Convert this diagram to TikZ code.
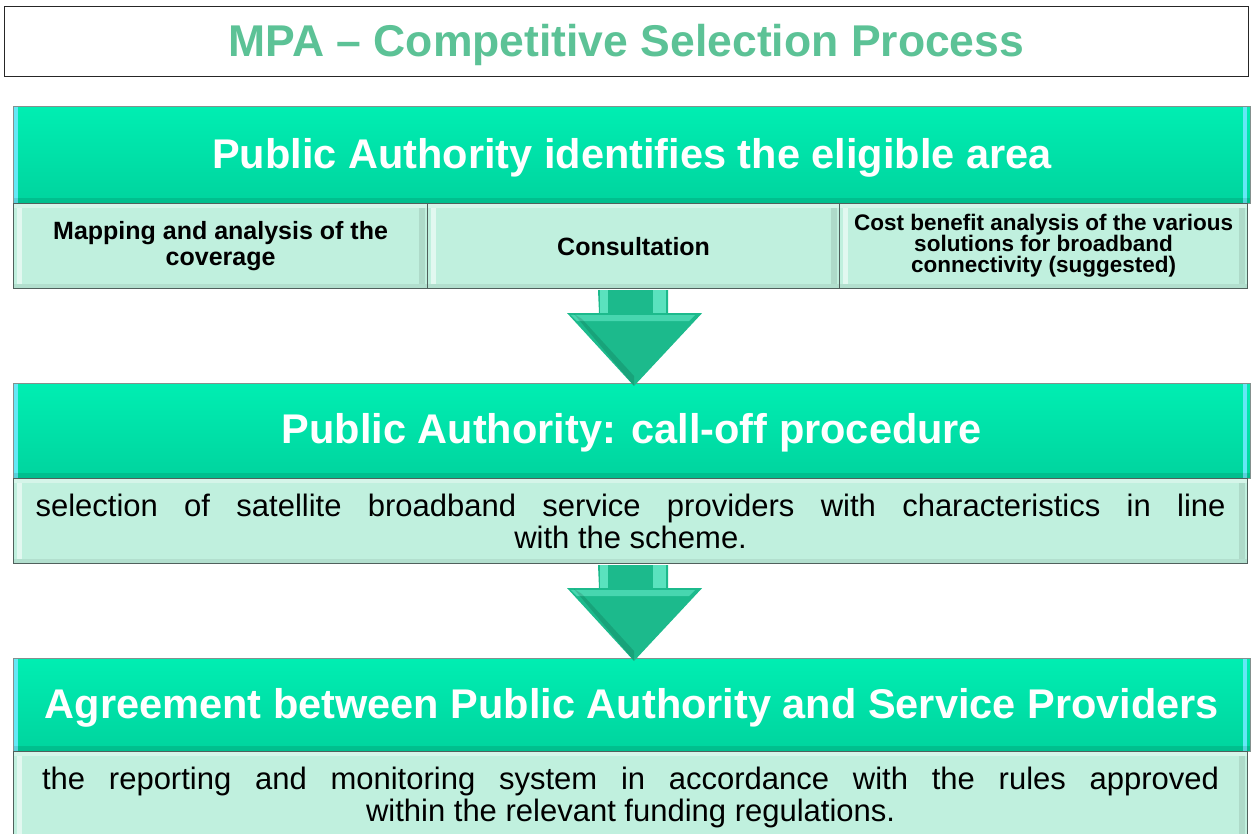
\documentclass[tikz,border=0pt]{standalone}
\usepackage{fontspec}
\setmainfont{Liberation Sans}
\definecolor{titlegreen}{RGB}{92,194,150}
\definecolor{hdrtop}{RGB}{0,238,178}
\definecolor{hdrbot}{RGB}{0,212,158}
\definecolor{subfill}{RGB}{192,240,222}
\definecolor{edgegray}{RGB}{80,96,92}
\definecolor{arrowfill}{RGB}{28,186,140}
\definecolor{arrowlight}{RGB}{90,226,190}
\definecolor{cyanedge}{RGB}{100,232,245}
\newcommand{\lowr}[2]{\raisebox{-#1}[\height][\depth]{#2}}
\begin{document}
\begin{tikzpicture}[x=1pt,y=-1pt,
  titlebox/.style={draw=black!85,line width=1pt,fill=white,anchor=north west,inner sep=0pt},
  hdrbox/.style={draw=edgegray!70,line width=0.8pt,top color=hdrtop,bottom color=hdrbot,anchor=north west,inner sep=0pt,
     text=white,font=\bfseries\fontsize{41.5}{46}\selectfont,
     path picture={
       \fill[cyanedge] ([xshift=0pt]path picture bounding box.north west) rectangle ([xshift=5pt]path picture bounding box.south west);
       \fill[cyanedge] ([xshift=-7pt]path picture bounding box.north east) rectangle ([xshift=-3pt]path picture bounding box.south east);
       \fill[black,opacity=.10] ([yshift=5pt]path picture bounding box.south west) rectangle (path picture bounding box.south east);
     }},
  subbox/.style={draw=edgegray,line width=1.2pt,fill=subfill,anchor=north west,inner sep=0pt,align=center,
     path picture={
       \fill[white,opacity=.55] ([xshift=3pt,yshift=-4pt]path picture bounding box.north west) rectangle ([xshift=8pt,yshift=5pt]path picture bounding box.south west);
       \fill[black,opacity=.09] ([xshift=-9pt,yshift=-4pt]path picture bounding box.north east) rectangle ([xshift=-3pt,yshift=5pt]path picture bounding box.south east);
       \fill[black,opacity=.07] ([yshift=5pt]path picture bounding box.south west) rectangle (path picture bounding box.south east);
       \fill[white,opacity=.35] (path picture bounding box.north west) rectangle ([yshift=-4pt]path picture bounding box.north east);
     }},
  subbold/.style={font=\bfseries\fontsize{25}{26}\selectfont},
  subreg/.style={font=\fontsize{31}{32}\selectfont},
]
\useasboundingbox (0,0) rectangle (1252,834);

% title
\node[titlebox,minimum width=1244pt,minimum height=70pt] (title) at (4,6)
  {\lowr{3pt}{\textcolor{titlegreen}{\bfseries\fontsize{44.5}{48}\selectfont MPA -- Competitive Selection Process}}};

% block 1
\node[hdrbox,minimum width=1237pt,minimum height=97pt] (h1) at (13,106) {\lowr{3pt}{Public Authority identifies the eligible area}};
\node[subbox,subbold,minimum width=414pt,minimum height=85pt] (s1a) at (13,203) {Mapping and analysis of the\\coverage};
\node[subbox,subbold,minimum width=412pt,minimum height=85pt] (s1b) at (427,203) {Consultation};
\node[subbox,font=\bfseries\fontsize{22.5}{21}\selectfont,minimum width=408pt,minimum height=85pt] (s1c) at (839,203) {Cost benefit analysis of the various\\solutions for broadband\\connectivity (suggested)};

% block 2
\node[hdrbox,minimum width=1237pt,minimum height=95pt] (h2) at (13,383) {\lowr{2pt}{Public Authority: call-off procedure}};
\node[subbox,subreg,minimum width=1234pt,minimum height=85pt] (s2) at (13,478)
  {\makebox[1190pt][s]{selection of satellite broadband service providers with characteristics in line}\\with the scheme.};

% block 3
\node[hdrbox,minimum width=1237pt,minimum height=93pt] (h3) at (13,658) {\lowr{3pt}{Agreement between Public Authority and Service Providers}};
\node[subbox,subreg,minimum width=1234pt,minimum height=92pt] (s3) at (13,751)
  {\makebox[1177pt][s]{the reporting and monitoring system in accordance with the rules approved}\\within the relevant funding regulations.};

% arrows
\foreach \top/\tip in {s1b/h2, s2/h3}{
  \coordinate (A) at ([yshift=-1pt]\top.south -| 633,0);
  \coordinate (T) at ([yshift=-3pt]\tip.north -| 634,0);
  \fill[arrowfill] (A) ++(-35,0) -- ++(70,0) -- ++(0,23) -- ++(34,0) -- (T) -- ++(-67,-73) -- ++(32,0) -- cycle;
  \fill[arrowlight] (A) ++(-33,0) rectangle ++(8,23);
  \fill[arrowlight] (A) ++(20,0) rectangle ++(13,23);
  \fill[arrowlight,opacity=.7] (A) ++(-62,25) -- ++(124,0) -- ++(-6,6) -- ++(-112,0) -- cycle;
  \fill[black,opacity=.12] (T) ++(0,-10) -- ++(-52,-57) -- ++(-8,-5) -- (T) -- cycle;
}
\end{tikzpicture}
\end{document}
